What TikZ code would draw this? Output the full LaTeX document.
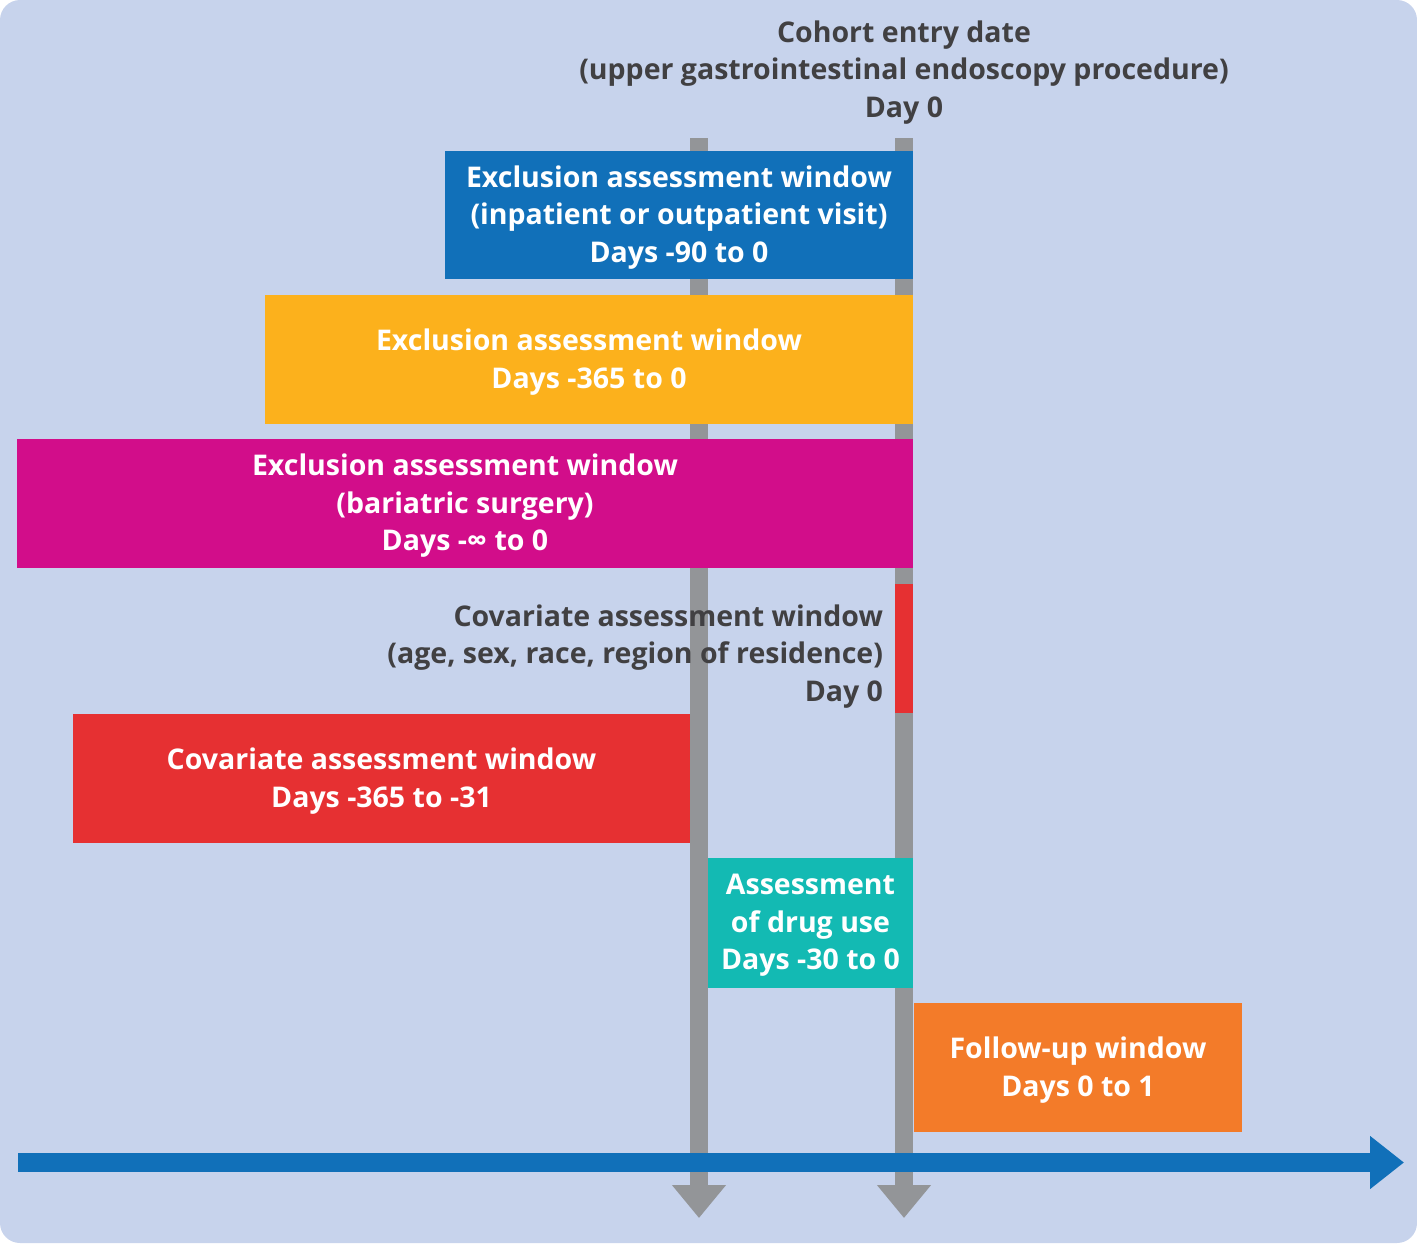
\documentclass[tikz,border=0pt]{standalone}
\usepackage{fontspec}
\setmainfont{Open Sans}
\usetikzlibrary{arrows.meta}
\definecolor{bgc}{HTML}{C7D3EC}
\definecolor{grayc}{HTML}{939598}
\definecolor{bluec}{HTML}{1170B9}
\definecolor{yellowc}{HTML}{FCB11C}
\definecolor{magc}{HTML}{D20D8A}
\definecolor{redc}{HTML}{E63032}
\definecolor{tealc}{HTML}{13BAB3}
\definecolor{orangec}{HTML}{F37B29}
\definecolor{textc}{HTML}{414042}
\tikzset{
  win/.style={inner sep=0pt, outer sep=0pt, text=white, align=center, font=\fontsize{28.5}{37.5}\selectfont\bfseries},
  lab/.style={inner sep=0pt, outer sep=0pt, text=textc, font=\fontsize{28.5}{37.5}\selectfont\bfseries},
  marker/.style={grayc, line width=18pt, -{Triangle[width=52pt,length=33pt]}},
}
\begin{document}
\begin{tikzpicture}[x=1pt,y=-1pt]
\useasboundingbox (0,0) rectangle (1417,1243);
\fill[bgc, rounded corners=20pt] (0,0) rectangle (1417,1243);
% markers
\coordinate (ltop) at (699,138);
\coordinate (lbot) at (699,1218);
\coordinate (rtop) at (904,138);
\coordinate (rbot) at (904,1218);
\draw[marker] (ltop) -- (lbot);
\draw[marker] (rtop) -- (rbot);
% axis
\coordinate (ax0) at (18,1162.5);
\coordinate (ax1) at (1404,1162.5);
\draw[bluec, line width=19pt, -{Triangle[width=51pt,length=34pt]}] (ax0) -- (ax1);
% boxes
\fill[bluec] (445,151) rectangle (913,279);
\node[win] (b1) at (679,217.5) {Exclusion assessment window\\(inpatient or outpatient visit)\\Days -90 to 0};
\fill[yellowc] (265,295) rectangle (913,424);
\node[win] (b2) at (589,362) {Exclusion assessment window\\Days -365 to 0};
\fill[magc] (17,439) rectangle (913,568);
\node[win] (b3) at (465,506) {Exclusion assessment window\\(bariatric surgery)\\Days -∞ to 0};
\fill[redc] (895,584) rectangle (913,713);
\node[lab, align=right, anchor=east] (c1) at (883,656.5) {Covariate assessment window\\(age, sex, race, region of residence)\\Day 0};
\fill[redc] (73,714) rectangle (690,843);
\node[win] (b4) at (381.5,781) {Covariate assessment window\\Days -365 to -31};
\fill[tealc] (708,858) rectangle (913,988);
\node[win] (b5) at (810.5,925.5) {Assessment\\of drug use\\Days -30 to 0};
\fill[orangec] (914,1003) rectangle (1242,1132);
\node[win] (b6) at (1078,1070) {Follow-up window\\Days 0 to 1};
% top label
\node[lab, align=center] (top) at (904,72.5) {Cohort entry date\\(upper gastrointestinal endoscopy procedure)\\Day 0};
\end{tikzpicture}
\end{document}
